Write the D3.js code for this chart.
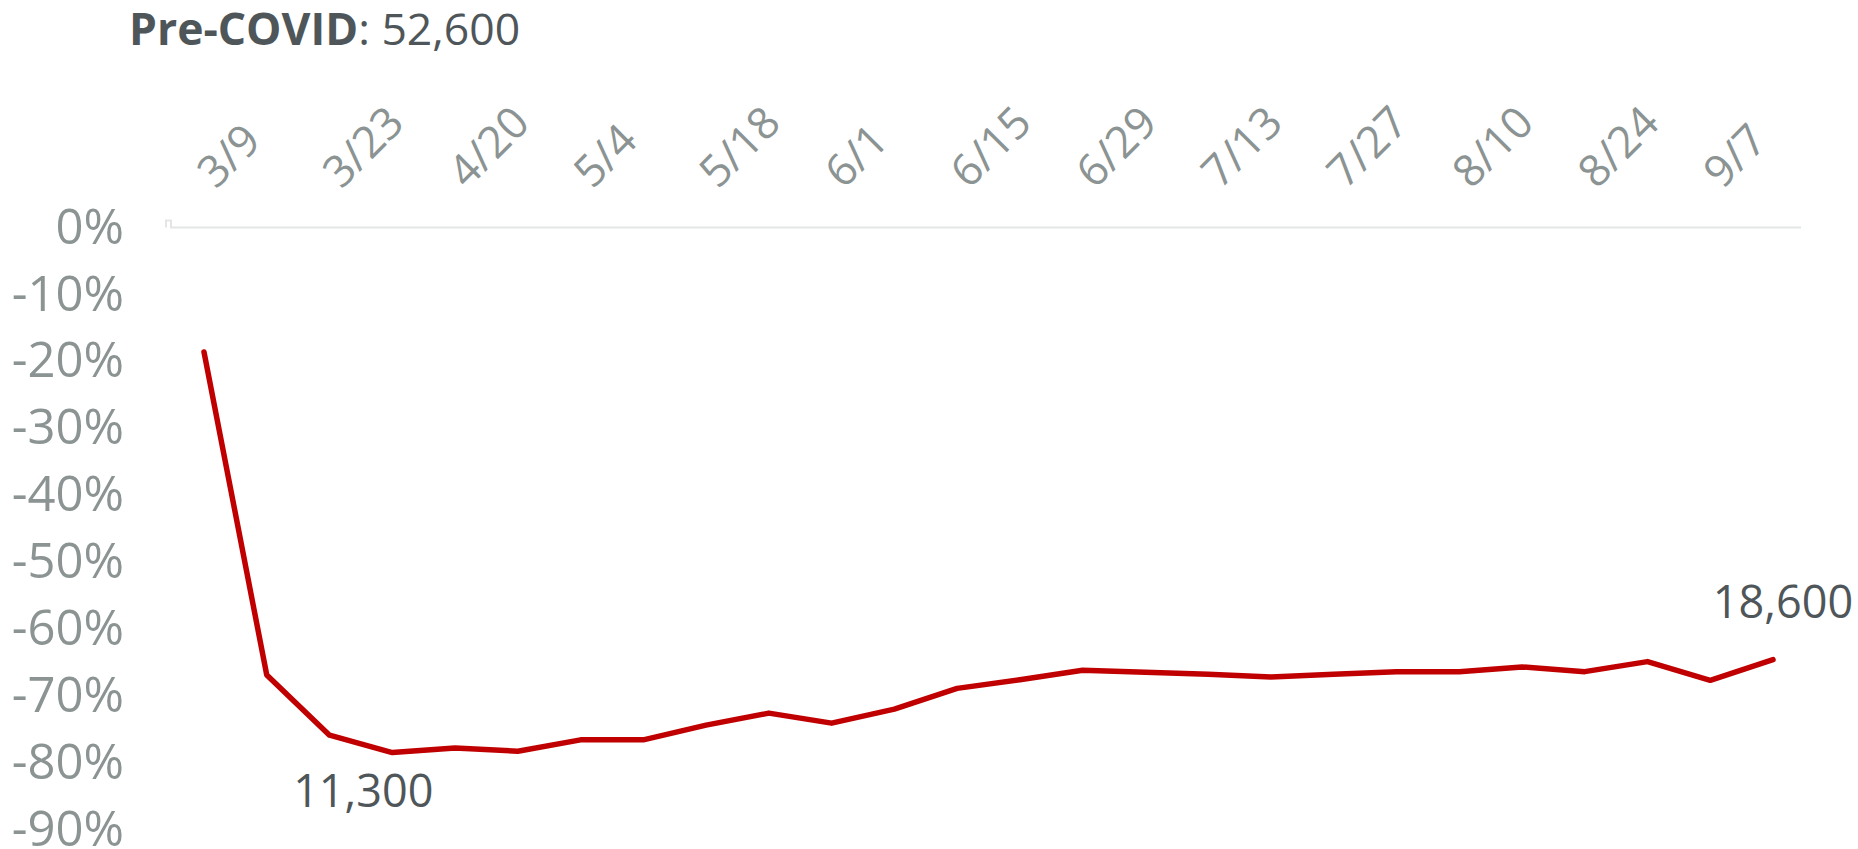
<!DOCTYPE html>
<html>
<head>
<meta charset="utf-8">
<script src="https://cdn.jsdelivr.net/npm/d3@7"></script>
<style>
  body { margin: 0; background: #fff; }
  text { font-family: "Open Sans", "Noto Sans", sans-serif; }
</style>
</head>
<body>
<div id="chart"></div>
<script>
// weekly dates (only every other one is labelled)
var weeks = ["3/9","3/16","3/23","4/6","4/20","4/27","5/4","5/11","5/18","5/25",
             "6/1","6/8","6/15","6/22","6/29","7/6","7/13","7/20","7/27","8/3",
             "8/10","8/17","8/24","8/31","9/7","9/14"]
// % change vs pre-covid level
var change = [-18.6,-66.9,-75.9,-78.5,-77.8,-78.3,-76.6,-76.6,-74.4,-72.6,
              -74.1,-72.0,-68.9,-67.6,-66.2,-66.5,-66.8,-67.2,-66.8,-66.4,
              -66.4,-65.7,-66.4,-64.9,-67.7,-64.6]
var tickWeeks = ["3/9","3/23","4/20","5/4","5/18","6/1","6/15","6/29","7/13","7/27","8/10","8/24","9/7"]
var yTicks = [0,-10,-20,-30,-40,-50,-60,-70,-80,-90]
var preCovid = "52,600"
var lowLabel = "11,300"
var lastLabel = "18,600"

var w = 1858
var h = 849

var svg = d3.select('#chart').append('svg')
    .attr('width', w)
    .attr('height', h)

var x = d3.scalePoint().domain(weeks).range([204, 1773])
var y = d3.scaleLinear().domain([-90, 0]).range([829.5, 227.5])

// title
var title = svg.append('text')
    .attr('x', 129)
    .attr('y', 45)
    .attr('font-size', 44.5)
    .attr('fill', '#4f5659')
title.append('tspan').attr('font-weight', 'bold').text('Pre-COVID')
title.append('tspan').text(': ' + preCovid)

// zero line with the little hook at the left end
var x0 = x(weeks[0]) - 38
svg.append('path')
    .attr('d', 'M' + x0 + ',' + y(0) + 'V' + (y(0) - 7) + 'H' + (x0 + 5) + 'V' + y(0) + 'H1801')
    .attr('fill', 'none')
    .attr('stroke', '#e4e6e6')
    .attr('stroke-width', 2)

// y labels
svg.selectAll('.ylab')
    .data(yTicks)
    .enter()
    .append('text')
    .attr('class', 'ylab')
    .attr('x', 124)
    .attr('y', function(d){ return y(d) })
    .attr('dy', '0.33em')
    .attr('text-anchor', 'end')
    .attr('font-size', 49)
    .attr('fill', '#8b9393')
    .text(function(d){ return d + '%' })

// x labels, rotated
svg.selectAll('.xlab')
    .data(tickWeeks)
    .enter()
    .append('text')
    .attr('class', 'xlab')
    .attr('transform', function(d){
      return 'translate(' + (x(d) + 12) + ',' + 190 + ') rotate(-45)'
    })
    .attr('font-size', 44)
    .attr('fill', '#8b9393')
    .text(function(d){ return d })

var line = d3.line()
    .x(function(d, i){ return x(weeks[i]) })
    .y(function(d){ return y(d) })

svg.append('path')
    .datum(change)
    .attr('d', line)
    .attr('fill', 'none')
    .attr('stroke', '#c00000')
    .attr('stroke-width', 5.5)
    .attr('stroke-linecap', 'round')
    .attr('stroke-linejoin', 'round')

// annotations at the low point and the last week
var low = 3, last = change.length - 1
svg.append('text')
    .attr('x', x(weeks[low]) - 29)
    .attr('y', y(change[low]) + 54)
    .attr('text-anchor', 'middle')
    .attr('font-size', 45)
    .attr('fill', '#4f5659')
    .text(lowLabel)
svg.append('text')
    .attr('x', x(weeks[last]) + 10)
    .attr('y', y(change[last]) - 42)
    .attr('text-anchor', 'middle')
    .attr('font-size', 45)
    .attr('fill', '#4f5659')
    .text(lastLabel)
</script>
</body>
</html>
